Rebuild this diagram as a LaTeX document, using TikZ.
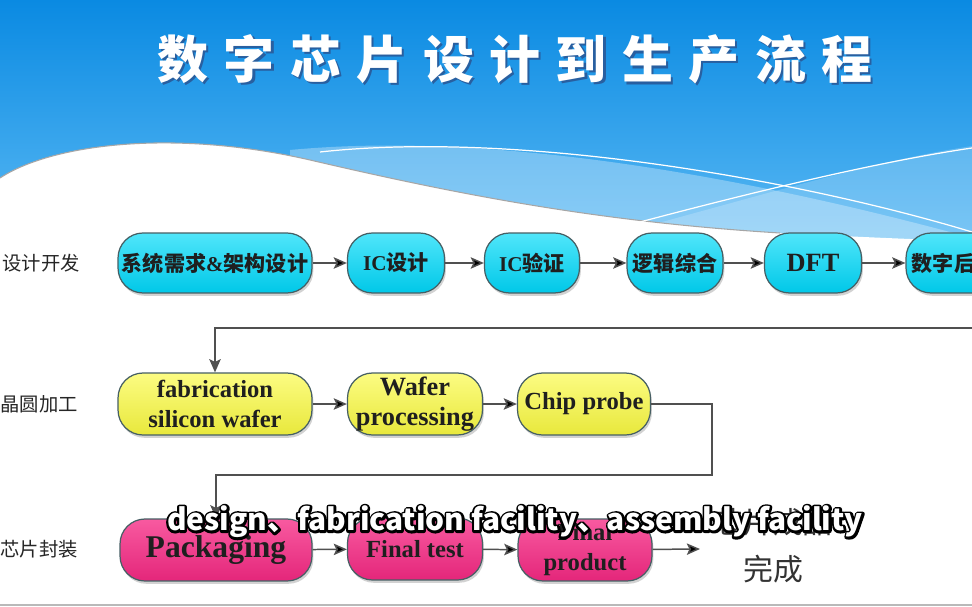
\documentclass[tikz,border=0pt]{standalone}
\usepackage{fontspec}
\setmainfont{Liberation Serif}
\newfontfamily\cjk{Noto Sans CJK SC}
\usetikzlibrary{arrows.meta, positioning, shadows}

\definecolor{skytop}{RGB}{10,138,226}
\definecolor{skybot}{RGB}{95,188,245}
\definecolor{titleshade}{RGB}{40,95,160}
\definecolor{cyantop}{RGB}{80,230,250}
\definecolor{cyanbot}{RGB}{0,200,232}
\definecolor{yeltop}{RGB}{252,252,130}
\definecolor{yelbot}{RGB}{232,232,60}
\definecolor{pinktop}{RGB}{248,90,160}
\definecolor{pinkbot}{RGB}{228,38,122}
\definecolor{boxline}{RGB}{70,95,100}
\definecolor{arrowgray}{RGB}{80,80,80}

% outlined text: stroke copy underneath, white fill on top
\newcommand\outlined[1]{\rlap{\special{pdf:literal direct 1 Tr 2.6 w 1 j 0 G}#1\special{pdf:literal direct 0 Tr}}#1}
% title glyph with a soft offset shade
\newcommand\shaded[1]{\rlap{\kern1.2pt\raisebox{-1.2pt}{\textcolor{titleshade}{#1}}}#1}

\begin{document}
\begin{tikzpicture}[x=0.02cm, y=-0.02cm,
  proc/.style = {draw=boxline, line width=0.7pt, rounded corners=0.5cm,
    minimum height=1.2cm, inner sep=0pt, align=center, text=black!88,
    font=\bfseries\fontsize{12}{14}\selectfont,
    drop shadow={shadow xshift=0.8pt, shadow yshift=-1.6pt, opacity=0.35}},
  cbox/.style = {proc, top color=cyantop, bottom color=cyanbot},
  ybox/.style = {proc, top color=yeltop, bottom color=yelbot, minimum height=1.24cm,
    font=\bfseries\fontsize{14}{17}\selectfont},
  pbox/.style = {proc, top color=pinktop, bottom color=pinkbot, minimum height=1.24cm,
    font=\bfseries\fontsize{14}{17}\selectfont},
  rowname/.style = {anchor=west, inner sep=0pt, text=black!85,
    font=\cjk\fontsize{11}{13}\selectfont},
  flow/.style = {-{Stealth[length=7.5pt, width=6.5pt, inset=1.5pt]}, line width=0.85pt, draw=arrowgray},
  subtext/.style = {inner sep=0pt, text=white, font=\cjk\bfseries\fontsize{17}{20}\selectfont}]

  \useasboundingbox (0,0) rectangle (972,607);
  \clip (0,0) rectangle (972,607);

  % sky and wave
  \fill [top color=skytop, bottom color=skybot] (0,0) rectangle (972,260);
  \fill [white, opacity=0.3] (290,150) .. controls (500,130) and (760,180) .. (972,238)
    -- (972,270) -- (290,270) -- cycle;
  \fill [white, opacity=0.2] (640,228) .. controls (780,190) and (880,160) .. (972,146)
    -- (972,270) -- (640,270) -- cycle;
  \fill [white] (0,178) .. controls (50,145) and (170,128) .. (310,160)
    .. controls (460,195) and (600,222) .. (780,233)
    .. controls (880,238) and (930,240) .. (972,241) -- (972,607) -- (0,607) -- cycle;
  \draw [gray!70, line width=0.6pt] (0,178) .. controls (50,145) and (170,128) .. (310,160)
    .. controls (460,195) and (600,222) .. (780,233);
  \draw [white, line width=0.7pt] (320,152) .. controls (520,130) and (800,180) .. (972,232);
  \draw [white, line width=0.7pt] (640,222) .. controls (780,185) and (890,160) .. (972,148);

  % title
  \foreach \ch [count=\i] in {数,字,芯,片,设,计,到,生,产,流,程}
    \node (t\i) [text=white, font=\cjk\bfseries\fontsize{29}{30}\selectfont]
      at (183+66.4*\i-66.4,60) {\shaded{\ch}};

  % row names
  \node (r1) [rowname] at (2,263) {设计开发};
  \node (r2) [rowname] at (0,404) {晶圆加工};
  \node (r3) [rowname] at (0,549) {芯片封装};

  % design
  \node (sys) [cbox, minimum width=3.88cm] at (215,263) {{\cjk 系统需求}\&{\cjk 架构设计}};
  \node (icd) [cbox, minimum width=1.94cm] at (396,263) {IC{\cjk 设计}};
  \node (icv) [cbox, minimum width=1.9cm] at (532,263) {IC{\cjk 验证}};
  \node (syn) [cbox, minimum width=1.92cm] at (675,263) {{\cjk 逻辑综合}};
  \node (dft) [cbox, minimum width=1.94cm] at (813,263) {\fontsize{15}{17}\selectfont DFT};
  \node (back) [cbox, minimum width=1.92cm] at (954,263) {{\cjk 数字后端}};

  % wafer
  \node (fab) [ybox, minimum width=3.88cm] at (215,404) {fabrication\\silicon wafer};
  \node (wpr) [ybox, minimum width=2.7cm, font=\bfseries\fontsize{15}{17}\selectfont]
    at (415,404) {Wafer\\processing};
  \node (prb) [ybox, minimum width=2.66cm] at (584,404) {Chip probe};

  % packaging
  \node (pkg) [pbox, minimum width=3.84cm, font=\bfseries\fontsize{18}{20}\selectfont]
    at (216,550) {Packaging};
  \node (fin) [pbox, minimum width=2.7cm] at (415,549) {Final test};
  \node (prd) [pbox, minimum width=2.68cm] at (585,550) {Final\\product};
  \node (done) [align=center, text=black!80, font=\cjk\fontsize{17}{27}\selectfont]
    at (773,546) {芯片成品\\完成};

  \coordinate (turn1) at (990,328);
  \coordinate (turn2) at (712,475);
  \coordinate (doneIn) at (700,549);

  \path [flow]
    (sys) edge (icd)
    (icd) edge (icv)
    (icv) edge (syn)
    (syn) edge (dft)
    (dft) edge (back)
    (fab) edge (wpr)
    (wpr) edge (prb)
    (pkg) edge (fin)
    (fin) edge (prd)
    (prd) edge (doneIn);
  \draw [flow] (turn1) -| (fab.north);
  \draw [flow] (prb.east) -| (turn2) -| (pkg.north);

  \draw [gray!55, line width=1pt] (0,605) -- (972,605);

  % subtitle
  \node (sub) [subtext] at (515,522) {\outlined{design、fabrication facility、assembly facility}};
\end{tikzpicture}
\end{document}
